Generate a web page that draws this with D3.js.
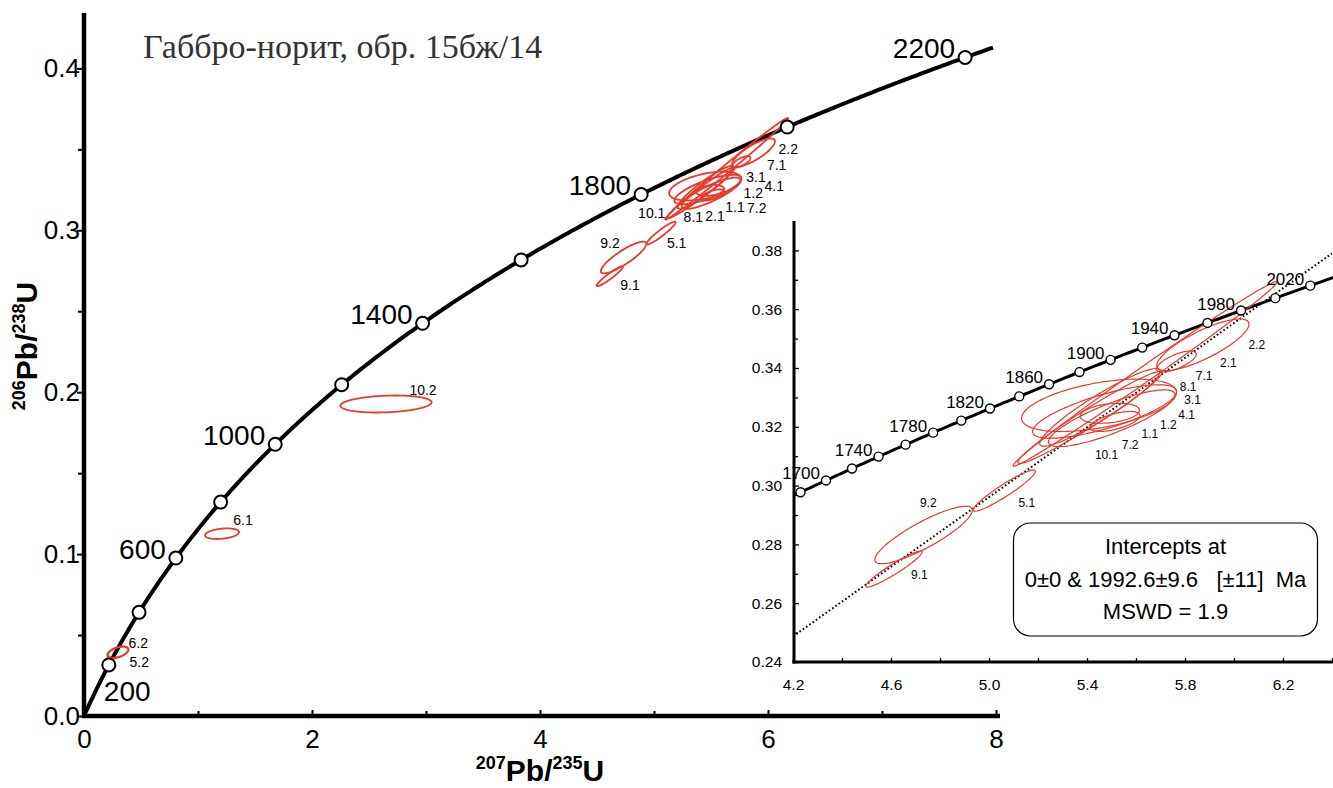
<!DOCTYPE html>
<html><head><meta charset="utf-8">
<script src="https://cdn.jsdelivr.net/npm/d3@7"></script>
<style>
body{margin:0;background:#fff;}
svg{display:block;font-family:"Liberation Sans",Arial,sans-serif;}
</style></head><body>
<svg id="c" width="1333" height="788"></svg>
<script>
// ---------------- data ----------------
const spotLabels = ["9.1","9.2","5.1","2.2","2.1","7.1","8.1","3.1","4.1","1.2","1.1","7.2","10.1","10.2","6.1","6.2","5.2"];
const pb207u235  = [4.612,4.733,5.0625,5.637,5.873,5.765,5.453,5.449,5.472,5.501,5.493,5.514,5.412,2.649,1.211,0.2965,0.300];
const err207     = [0.115,0.199,0.127,0.539,0.188,0.081,0.246,0.316,0.294,0.258,0.121,0.102,0.294,0.40,0.149,0.092,0.090];
const pb206u238  = [0.2716,0.2832,0.2983,0.338,0.3479,0.3422,0.3266,0.3273,0.3252,0.3229,0.3246,0.3218,0.3232,0.1927,0.1126,0.0392,0.0395];
const err206     = [0.00612,0.00977,0.0070,0.0314,0.00878,0.00357,0.0132,0.00891,0.00908,0.00964,0.0034,0.0034,0.01565,0.00525,0.00327,0.0036,0.0035];
const rhoVals    = [0.945,0.86,0.94,0.995,0.80,0.70,0.93,0.49,0.75,0.83,0.30,0.60,0.973,0.20,0.30,0.50,0.45];

// label anchor positions (data units) in the main plot
const mainLabelText = ["9.2","9.1","5.1","10.1","8.1","2.1","1.1","7.2","1.2","4.1","3.1","7.1","2.2","10.2","6.1","6.2","5.2"];
const mainLabelX = [4.614,4.789,5.199,4.980,5.345,5.535,5.711,5.901,5.871,6.055,5.895,6.076,6.178,2.974,1.395,0.476,0.485];
const mainLabelY = [0.2923,0.2662,0.2923,0.3109,0.3080,0.3088,0.3142,0.3136,0.3232,0.3274,0.3331,0.3403,0.3500,0.2014,0.1211,0.0449,0.0332];
// label anchor positions (data units) in the inset
const insetLabelText = ["9.2","9.1","5.1","10.1","7.2","1.1","1.2","4.1","3.1","8.1","7.1","2.1","2.2"];
const insetLabelX = [4.752,4.716,5.154,5.480,5.576,5.657,5.732,5.807,5.831,5.813,5.878,5.977,6.093];
const insetLabelY = [0.2942,0.2696,0.2940,0.3104,0.3138,0.3176,0.3206,0.3240,0.3291,0.3335,0.3373,0.3416,0.3479];

const mainAgeMarks  = [200,400,600,800,1000,1200,1400,1600,1800,2000,2200];
const mainAgeLabels = [200,600,1000,1400,1800,2200];
const insetAgeMarks = [1680,1700,1720,1740,1760,1780,1800,1820,1840,1860,1880,1900,1920,1940,1960,1980,2000,2020,2040];
const insetAgeLabels = [1700,1740,1780,1820,1860,1900,1940,1980,2020];

const mainXTicks = [0,2,4,6,8], mainXMinor = [1,3,5,7];
const mainYTicks = [0,0.1,0.2,0.3,0.4], mainYMinor = [0.05,0.15,0.25,0.35];
const insetXTicks = [4.2,4.6,5.0,5.4,5.8,6.2], insetXMinor = [4.4,4.8,5.2,5.6,6.0,6.4];
const insetYTicks = [0.24,0.26,0.28,0.30,0.32,0.34,0.36,0.38], insetYMinor = [0.25,0.27,0.29,0.31,0.33,0.35,0.37];

const upperInterceptAge = 1992.6;
const lambda238 = 1.55125e-10, lambda235 = 9.8485e-10;
const titleText = "Габбро-норит, обр. 15бж/14";
const boxLines = ["Intercepts at", "0±0 & 1992.6±9.6   [±11]  Ma", "MSWD = 1.9"];

// ---------------- helpers ----------------
const svg = d3.select("#c");
const RED = "#e8392b";
const r238 = t => Math.exp(lambda238*t*1e6)-1;
const r235 = t => Math.exp(lambda235*t*1e6)-1;

function ellipsePath(i, xs, ys){
  const pts=[], n=120, X=pb207u235[i], Y=pb206u238[i], sx=err207[i], sy=err206[i], r=rhoVals[i];
  const q=Math.sqrt(1-r*r);
  for(let k=0;k<n;k++){const t=2*Math.PI*k/n;
    pts.push([xs(X+sx*Math.cos(t)), ys(Y+sy*(r*Math.cos(t)+q*Math.sin(t)))]);}
  return d3.line().curve(d3.curveLinearClosed)(pts);
}

// ---------------- main plot ----------------
const x = d3.scaleLinear([0,8],[84,996]);
const y = d3.scaleLinear([0,0.4342],[716,13]);
const gm = svg.append("g");

gm.append("g").attr("transform","translate(0,716)")
  .call(d3.axisBottom(x).tickValues(mainXTicks).tickFormat(d3.format("d")).tickSize(-6).tickSizeOuter(0).tickPadding(14));
gm.append("g").attr("transform","translate(0,716)")
  .call(d3.axisBottom(x).tickValues(mainXMinor).tickFormat("").tickSize(-5).tickSizeOuter(0));
gm.append("g").attr("transform","translate(84,0)")
  .call(d3.axisLeft(y).tickValues(mainYTicks).tickFormat(d3.format(".1f")).tickSize(7).tickSizeOuter(0).tickPadding(-3));
gm.append("g").attr("transform","translate(84,0)")
  .call(d3.axisLeft(y).tickValues(mainYMinor).tickFormat("").tickSize(6).tickSizeOuter(0));
gm.selectAll(".domain").remove();
gm.selectAll(".tick line").attr("stroke","#000").attr("stroke-width",2);
gm.selectAll(".tick text").attr("font-size",26).attr("fill","#000").attr("font-family","Liberation Sans, Arial, sans-serif");
gm.append("line").attr("x1",84).attr("x2",84).attr("y1",718).attr("y2",13).attr("stroke","#000").attr("stroke-width",4.5);
gm.append("line").attr("x1",82).attr("x2",1000).attr("y1",716).attr("y2",716).attr("stroke","#000").attr("stroke-width",4.5);

// concordia
const mainAges = d3.range(0,2232,4);
gm.append("path").attr("d", d3.line()(mainAges.map(t=>[x(r235(t)), y(r238(t))])))
  .attr("fill","none").attr("stroke","#000").attr("stroke-width",4);

gm.selectAll("path.ell").data(d3.range(spotLabels.length)).join("path").attr("class","ell")
  .attr("d", i=>ellipsePath(i,x,y)).attr("fill","none").attr("stroke",RED).attr("stroke-width",1.8);

gm.selectAll("circle.age").data(mainAgeMarks).join("circle").attr("class","age")
  .attr("cx",t=>x(r235(t))).attr("cy",t=>y(r238(t))).attr("r",6.5)
  .attr("fill","#fff").attr("stroke","#000").attr("stroke-width",2);

gm.selectAll("text.agel").data(mainAgeLabels).join("text").attr("class","agel")
  .attr("x",t=>x(r235(t)) + (t===200?-5:-10)).attr("y",t=>y(r238(t)) + (t===200?36:1))
  .attr("text-anchor",t=>t===200?"start":"end").attr("font-size",28).text(t=>t);

gm.selectAll("text.spl").data(mainLabelText).join("text").attr("class","spl")
  .attr("x",(d,i)=>x(mainLabelX[i])).attr("y",(d,i)=>y(mainLabelY[i]))
  .attr("text-anchor","middle").attr("dominant-baseline","central").attr("font-size",14).text(d=>d);

// title
svg.append("text").attr("x",143).attr("y",58).attr("font-family","Liberation Serif, Times New Roman, serif")
  .attr("font-size",34).attr("fill","#333").text(titleText);

// axis titles
function isoLabel(g, a, b){
  g.attr("font-weight","bold").attr("font-size",30).attr("text-anchor","middle");
  g.append("tspan").attr("font-size",18).attr("dy",-12).text(a);
  g.append("tspan").attr("dy",12).text("Pb/");
  g.append("tspan").attr("font-size",18).attr("dy",-12).text(b);
  g.append("tspan").attr("dy",12).text("U");
}
isoLabel(svg.append("text").attr("x",540).attr("y",781),"207","235");
isoLabel(svg.append("text").attr("transform","translate(37,346) rotate(-90)"),"206","238");

// ---------------- inset ----------------
const xi = d3.scaleLinear([4.2,6.4],[793,1332]);
const yi = d3.scaleLinear([0.24,0.39],[662,221]);
const gi = svg.append("g");
gi.append("rect").attr("x",794).attr("y",221).attr("width",539).attr("height",441).attr("fill","#fff");
svg.append("clipPath").attr("id","ic").append("rect").attr("x",794).attr("y",221).attr("width",539).attr("height",441);
const gc = gi.append("g").attr("clip-path","url(#ic)");

const slope = r238(upperInterceptAge)/r235(upperInterceptAge);
gc.append("line").attr("x1",xi(4.2)).attr("y1",yi(4.2*slope)).attr("x2",xi(6.4)).attr("y2",yi(6.4*slope))
  .attr("stroke","#000").attr("stroke-width",2).attr("stroke-dasharray","1.6,2.4");

const insetAges = d3.range(1640,2080,2);
gc.append("path").attr("d", d3.line()(insetAges.map(t=>[xi(r235(t)), yi(r238(t))])))
  .attr("fill","none").attr("stroke","#000").attr("stroke-width",3);

gc.selectAll("path.ell").data(d3.range(13)).join("path").attr("class","ell")
  .attr("d", i=>ellipsePath(i,xi,yi)).attr("fill","none").attr("stroke",RED).attr("stroke-width",1.2);

gc.selectAll("circle.age").data(insetAgeMarks).join("circle").attr("class","age")
  .attr("cx",t=>xi(r235(t))).attr("cy",t=>yi(r238(t))).attr("r",4.5)
  .attr("fill","#fff").attr("stroke","#000").attr("stroke-width",1.4);

gi.selectAll("text.agel").data(insetAgeLabels).join("text").attr("class","agel")
  .attr("x",t=>xi(r235(t))-6).attr("y",t=>yi(r238(t))-1)
  .attr("text-anchor","end").attr("font-size",17).text(t=>t);

gi.selectAll("text.spl").data(insetLabelText).join("text").attr("class","spl")
  .attr("x",(d,i)=>xi(insetLabelX[i])).attr("y",(d,i)=>yi(insetLabelY[i]))
  .attr("text-anchor","middle").attr("dominant-baseline","central").attr("font-size",12).text(d=>d);

// inset axes
gi.append("g").attr("transform","translate(0,662)")
  .call(d3.axisBottom(xi).tickValues(insetXTicks).tickFormat(d3.format(".1f")).tickSize(-4).tickSizeOuter(0).tickPadding(17));
gi.append("g").attr("transform","translate(0,662)")
  .call(d3.axisBottom(xi).tickValues(insetXMinor).tickFormat("").tickSize(-4).tickSizeOuter(0));
gi.append("g").attr("transform","translate(794,0)")
  .call(d3.axisLeft(yi).tickValues(insetYTicks).tickFormat(d3.format(".2f")).tickSize(-5).tickSizeOuter(0).tickPadding(12));
gi.append("g").attr("transform","translate(794,0)")
  .call(d3.axisLeft(yi).tickValues(insetYMinor).tickFormat("").tickSize(-4).tickSizeOuter(0));
gi.selectAll(".domain").remove();
gi.selectAll(".tick line").attr("stroke","#000").attr("stroke-width",1.3);
gi.selectAll(".tick text").attr("font-size",15.5).attr("fill","#000").attr("font-family","Liberation Sans, Arial, sans-serif");
gi.append("line").attr("x1",794).attr("x2",794).attr("y1",663.5).attr("y2",221).attr("stroke","#000").attr("stroke-width",3);
gi.append("line").attr("x1",792.5).attr("x2",1333).attr("y1",662).attr("y2",662).attr("stroke","#000").attr("stroke-width",3);

// intercept box
gi.append("rect").attr("x",1013.5).attr("y",523).attr("width",304).attr("height",113).attr("rx",17)
  .attr("fill","#fff").attr("stroke","#000").attr("stroke-width",1.2);
gi.selectAll("text.box").data(boxLines).join("text").attr("class","box")
  .attr("x",1165.5).attr("y",(d,i)=>554+i*32.5).attr("text-anchor","middle").attr("font-size",22)
  .style("white-space","pre").text(d=>d);
</script>
</body></html>
